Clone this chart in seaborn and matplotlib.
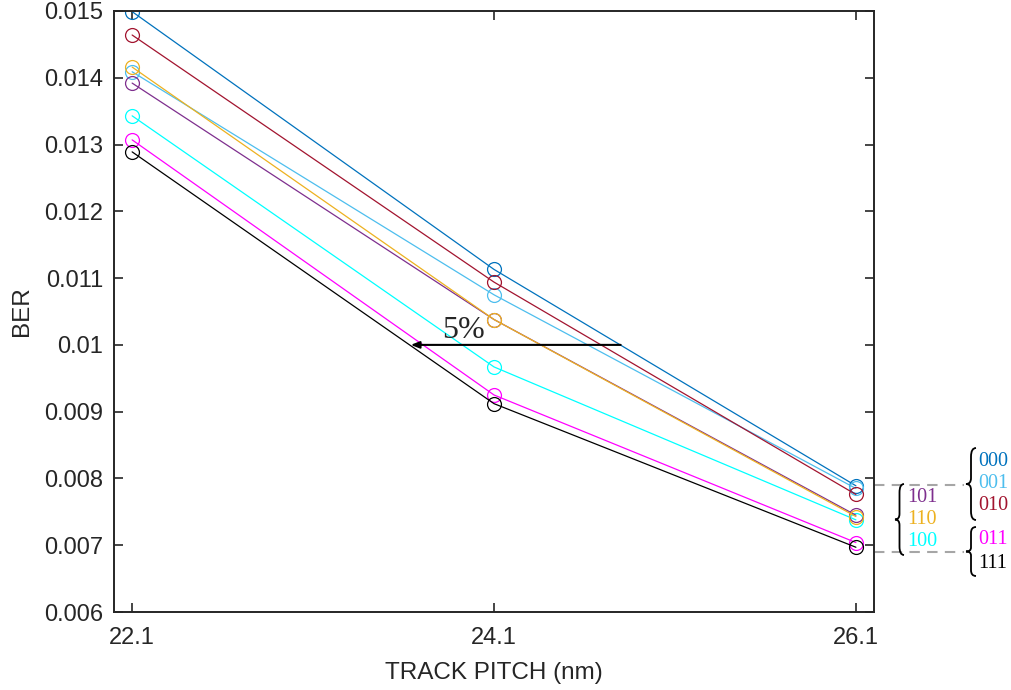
import numpy as np
import pandas as pd
import matplotlib
matplotlib.use("Agg")
import matplotlib.pyplot as plt
import seaborn as sns
from matplotlib.path import Path
from matplotlib.patches import PathPatch

# track pitch (nm) and BER per data pattern
pitch = [22.1, 24.1, 26.1]
codes = ["000", "001", "010", "011", "100", "101", "110", "111"]
ber_000 = [0.01499, 0.01113, 0.00789]
ber_001 = [0.01409, 0.01075, 0.00785]
ber_010 = [0.01464, 0.01094, 0.00776]
ber_011 = [0.01307, 0.00925, 0.00704]
ber_100 = [0.01343, 0.00967, 0.00738]
ber_101 = [0.01392, 0.01038, 0.00745]
ber_110 = [0.01416, 0.01038, 0.00743]
ber_111 = [0.01289, 0.00912, 0.00697]
colors = ["#0072BD", "#4DBEEE", "#A2142F", "#FF00FF",
          "#00FFFF", "#7E2F8E", "#EDB120", "#000000"]
group_levels = [0.0079, 0.0069]

series = [ber_000, ber_001, ber_010, ber_011, ber_100, ber_101, ber_110, ber_111]
df = pd.DataFrame({
    "pitch": pitch * len(codes),
    "ber": np.concatenate(series),
    "code": np.repeat(codes, len(pitch)),
})
pal = dict(zip(codes, colors))

sns.set_style("ticks")
plt.rcParams["font.family"] = ["Liberation Sans", "DejaVu Sans"]

fig = plt.figure(figsize=(10.11, 6.9), dpi=100)
ax = fig.add_axes([0.1128, 0.1130, 0.7517, 0.8711])

for code in codes:
    sub = df[df.code == code]
    sns.lineplot(data=sub, x="pitch", y="ber", ax=ax, color=pal[code], lw=0.9,
                 marker="o", markersize=10, markerfacecolor="none",
                 markeredgecolor=pal[code], markeredgewidth=0.9, legend=False)

ax.set_xlim(22.0, 26.2)
ax.set_ylim(0.006, 0.015)
ax.set_xticks(pitch)
ax.set_xticklabels([str(p) for p in pitch])
yt = np.round(np.arange(0.006, 0.0151, 0.001), 3)
ax.set_yticks(yt)
ax.set_yticklabels([f"{v:g}" for v in yt])
ax.tick_params(direction="in", length=6.5, width=1.2, colors="#262626",
               labelsize=17, top=True, right=True)
ax.tick_params(axis="y", pad=8)
ax.tick_params(axis="x", pad=11)
for s in ax.spines.values():
    s.set_linewidth(1.4)
    s.set_color("#262626")
ax.set_xlabel("TRACK PITCH (nm)", fontsize=17.5, color="#262626", labelpad=9)
ax.set_ylabel("BER", fontsize=17.5, color="#262626", labelpad=8)

# 5% arrow
ax.annotate("", xy=(23.64, 0.0100), xytext=(24.80, 0.0100),
            arrowprops=dict(arrowstyle="-|>,head_length=0.5,head_width=0.2",
                            color="black", lw=1.5, shrinkA=0, shrinkB=0))
ax.text(23.815, 0.0101, "5%", fontsize=23, family="Liberation Serif",
        ha="left", va="baseline")

# dashed guide lines out to the right
for lv in group_levels:
    ax.plot([26.2, 26.7], [lv, lv], color="#A6A6A6", lw=1.5,
            ls=(0, (5, 3.5)), clip_on=False)


def px(x, y):
    return x / 1011, 1 - y / 690


def brace(x0, x1, ytop, ybot):
    w = x1 - x0
    h = ybot - ytop
    unit = [(1, 0), (0.5, 0), (0.5, 0.12), (0.5, 0.42), (0.5, 0.5), (0, 0.5),
            (0.5, 0.5), (0.5, 0.58), (0.5, 0.88), (0.5, 1), (1, 1)]
    pts = [px(x0 + u * w, ytop + v * h) for u, v in unit]
    cmds = [Path.MOVETO, Path.CURVE3, Path.CURVE3, Path.LINETO, Path.CURVE3,
            Path.CURVE3, Path.CURVE3, Path.CURVE3, Path.LINETO, Path.CURVE3, Path.CURVE3]
    fig.add_artist(PathPatch(Path(pts, cmds), transform=fig.transFigure,
                             fill=False, lw=1.3, color="black"))


brace(895, 904, 484, 555)
brace(966, 976, 448, 520)
brace(966, 976, 527, 576)

labels = [("101", 907, 497), ("110", 907, 519), ("100", 907, 542),
          ("000", 978, 461), ("001", 978, 484), ("010", 978, 506),
          ("011", 978, 540), ("111", 978, 563)]
for txt, lx, ly in labels:
    fx, fy = px(lx, ly)
    fig.text(fx, fy, txt, color=pal[txt], fontsize=14.5,
             family="Liberation Serif", ha="left", va="center")

fig.savefig("out.png", dpi=100)
